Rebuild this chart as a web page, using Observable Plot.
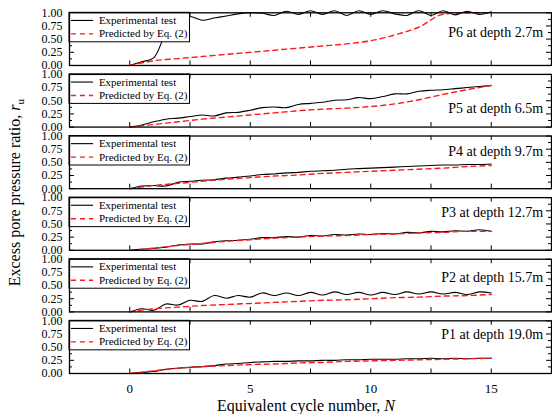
<!DOCTYPE html>
<html><head><meta charset="utf-8">
<script src="https://cdn.jsdelivr.net/npm/d3@7"></script>
<script src="https://cdn.jsdelivr.net/npm/@observablehq/plot@0.6"></script>
<style>
body{margin:0;background:#fff}
#chart{width:552px;height:414px}
#chart svg, #chart svg text{font-family:"Liberation Serif","Times New Roman",serif !important}
</style>
</head><body><div id="chart"></div>
<script>
// ---- data ----
const panels = ["P6", "P5", "P4", "P3", "P2", "P1"];
const panelLabels = ["P6 at depth 2.7m", "P5 at depth 6.5m", "P4 at depth 9.7m", "P3 at depth 12.7m", "P2 at depth 15.7m", "P1 at depth 19.0m"];
const labelHeights = [0.63, 0.35, 0.71, 0.72, 0.66, 0.74];
const legendLabels = ["Experimental test", "Predicted by Eq. (2)"];
const legendY = [0.855, 0.6];

const cyclesTest = [0, 0.5, 1, 1.5, 2, 2.5, 3, 3.5, 4, 4.5, 5, 5.5, 6, 6.5, 7, 7.5, 8, 8.5, 9, 9.5, 10, 10.5, 11, 11.5, 12, 12.5, 13, 13.5, 14, 14.5, 15];
const cyclesPred = [0, 1, 2, 3, 4, 5, 6, 7, 8, 9, 10, 11, 12, 13, 14, 15];

const testP6 = [0, 0.07, 0.15, 0.62, 0.9, 0.93, 0.86, 0.9, 0.94, 0.98, 1.0, 0.99, 0.95, 1.03, 0.97, 1.04, 0.97, 1.04, 0.95, 1.04, 0.97, 1.04, 0.98, 0.95, 1.04, 0.95, 1.04, 0.96, 1.03, 0.97, 1.02];
const testP5 = [0, 0.04, 0.1, 0.15, 0.17, 0.2, 0.23, 0.21, 0.27, 0.28, 0.32, 0.37, 0.38, 0.37, 0.43, 0.45, 0.47, 0.51, 0.52, 0.56, 0.54, 0.58, 0.63, 0.63, 0.68, 0.7, 0.71, 0.73, 0.75, 0.77, 0.79];
const testP4 = [0, 0.05, 0.06, 0.05, 0.12, 0.14, 0.16, 0.17, 0.2, 0.22, 0.24, 0.27, 0.28, 0.3, 0.31, 0.33, 0.34, 0.35, 0.37, 0.38, 0.39, 0.4, 0.41, 0.42, 0.43, 0.44, 0.45, 0.45, 0.46, 0.46, 0.47];
const testP3 = [0, 0.02, 0.04, 0.06, 0.1, 0.12, 0.12, 0.16, 0.18, 0.19, 0.21, 0.24, 0.24, 0.26, 0.25, 0.28, 0.27, 0.3, 0.29, 0.31, 0.3, 0.32, 0.31, 0.34, 0.33, 0.36, 0.35, 0.37, 0.36, 0.39, 0.36];
const testP2 = [0, 0.06, 0.03, 0.15, 0.13, 0.22, 0.2, 0.31, 0.26, 0.31, 0.28, 0.36, 0.31, 0.36, 0.31, 0.37, 0.32, 0.38, 0.33, 0.37, 0.32, 0.37, 0.33, 0.38, 0.34, 0.38, 0.34, 0.37, 0.33, 0.38, 0.36];
const testP1 = [0, 0.02, 0.04, 0.08, 0.1, 0.12, 0.13, 0.15, 0.18, 0.19, 0.21, 0.22, 0.23, 0.23, 0.24, 0.24, 0.25, 0.25, 0.26, 0.26, 0.27, 0.27, 0.27, 0.28, 0.28, 0.29, 0.28, 0.29, 0.28, 0.29, 0.29];

const predP6 = [0, 0.09, 0.13, 0.17, 0.21, 0.25, 0.29, 0.33, 0.37, 0.41, 0.47, 0.58, 0.73, 0.97, 1.0, 1.0];
const predP5 = [0, 0.05, 0.1, 0.15, 0.19, 0.23, 0.27, 0.31, 0.34, 0.36, 0.39, 0.44, 0.52, 0.62, 0.71, 0.79];
const predP4 = [0, 0.06, 0.1, 0.14, 0.18, 0.21, 0.24, 0.26, 0.29, 0.31, 0.33, 0.35, 0.37, 0.39, 0.42, 0.44];
const predP3 = [0, 0.04, 0.09, 0.13, 0.17, 0.2, 0.23, 0.25, 0.27, 0.28, 0.3, 0.31, 0.33, 0.34, 0.36, 0.36];
const predP2 = [0, 0.06, 0.09, 0.12, 0.14, 0.16, 0.18, 0.2, 0.22, 0.23, 0.25, 0.27, 0.28, 0.3, 0.31, 0.33];
const predP1 = [0, 0.05, 0.1, 0.13, 0.15, 0.17, 0.18, 0.2, 0.21, 0.23, 0.24, 0.25, 0.26, 0.27, 0.28, 0.29];

const xTicks = [0, 5, 10, 15];
const xAllTicks = [0, 2.5, 5, 7.5, 10, 12.5, 15];
const yTicks = [0, 0.25, 0.5, 0.75, 1];
const yMinorTicks = [0.125, 0.375, 0.625, 0.875];

// ---- build tables ----
const testSeries = [testP6, testP5, testP4, testP3, testP2, testP1];
const predSeries = [predP6, predP5, predP4, predP3, predP2, predP1];
const testRows = panels.flatMap((p, k) => cyclesTest.map((n, i) => ({panel: p, N: n, ru: testSeries[k][i]})));
const predRows = panels.flatMap((p, k) => cyclesPred.map((n, i) => ({panel: p, N: n, ru: predSeries[k][i]})));

// ---- layout ----
const W = 552, H = 414, mT = 12.3, mB = 41, mL = 69, mR = 1, pad = 0.145;
const step = (H - mT - mB) / (panels.length - pad);
const bandH = step * (1 - pad);
const frameW = W - mL - mR;
const font = "Liberation Serif, Times New Roman, serif";

const chart = Plot.plot({
  width: W, height: H,
  marginLeft: mL, marginRight: mR, marginTop: mT, marginBottom: mB,
  style: {fontFamily: font, background: "white", overflow: "visible"},
  x: {domain: [-2.5, 17.5]},
  y: {domain: [0, 1]},
  fy: {domain: panels, axis: null, paddingInner: pad, paddingOuter: 0, round: false},
  marks: [
    Plot.tickX(xAllTicks, {x: d => d, insetTop: bandH - 4.5, stroke: "black", strokeWidth: 1}),
    Plot.tickX(xAllTicks, {x: d => d, insetBottom: bandH - 4.5, stroke: "black", strokeWidth: 1}),
    Plot.tickY(yTicks, {y: d => d, insetRight: frameW - 5, stroke: "black"}),
    Plot.tickY(yTicks, {y: d => d, insetLeft: frameW - 5, stroke: "black"}),
    Plot.tickY(yMinorTicks, {y: d => d, insetRight: frameW - 3, stroke: "black"}),
    Plot.tickY(yMinorTicks, {y: d => d, insetLeft: frameW - 3, stroke: "black"}),
    Plot.line(testRows, {x: "N", y: "ru", fy: "panel", stroke: "black", strokeWidth: 1.1, curve: "catmull-rom"}),
    Plot.line(predRows, {x: "N", y: "ru", fy: "panel", stroke: "#ff1a1a", strokeWidth: 1.4, strokeDasharray: "5,4", curve: "monotone-x"}),
    Plot.rect([{x1: -2.5, x2: 2.5, y1: 0.44, y2: 1}], {x1: "x1", x2: "x2", y1: "y1", y2: "y2", fill: "white", stroke: "black", strokeWidth: 1}),
    Plot.ruleY([legendY[0]], {y: d => d, x1: -2.42, x2: -1.5, stroke: "black", strokeWidth: 1.1}),
    Plot.ruleY([legendY[1]], {y: d => d, x1: -2.42, x2: -1.5, stroke: "#ff1a1a", strokeWidth: 1.4, strokeDasharray: "5,4"}),
    Plot.text(legendLabels, {x: -1.28, y: (d, i) => legendY[i], text: d => d, textAnchor: "start", fontSize: 11, fill: "black"}),
    Plot.text(panels, {fy: d => d, x: 17.15, y: (d, i) => labelHeights[i], text: (d, i) => panelLabels[i], textAnchor: "end", fontSize: 14, fill: "black"}),
    Plot.frame({stroke: "black", strokeWidth: 1.3}),
    Plot.axisY(yTicks, {tickSize: 0, tickPadding: 7, tickFormat: d3.format(".2f"), fontSize: 12, label: null, fill: "black"}),
    Plot.axisX(xTicks, {tickSize: 0, tickPadding: 10, fontSize: 13, label: null, fill: "black"})
  ]
});
document.getElementById("chart").appendChild(chart);

// ---- axis titles (rich text) ----
const svg = d3.select(chart);
const xt = svg.append("text")
  .attr("x", mL + frameW / 2 - 4).attr("y", 410.5)
  .attr("text-anchor", "middle").attr("font-size", 16).attr("fill", "black");
xt.append("tspan").text("Equivalent cycle number, ");
xt.append("tspan").attr("font-style", "italic").text("N");

const yt = svg.append("text")
  .attr("transform", `translate(20,${(mT + H - mB) / 2}) rotate(-90)`)
  .attr("text-anchor", "middle").attr("font-size", 16).attr("fill", "black");
yt.append("tspan").text("Excess pore pressure ratio, ");
yt.append("tspan").attr("font-style", "italic").text("r");
yt.append("tspan").attr("font-size", 11).attr("dy", 4).text("u");
</script>
</body></html>
